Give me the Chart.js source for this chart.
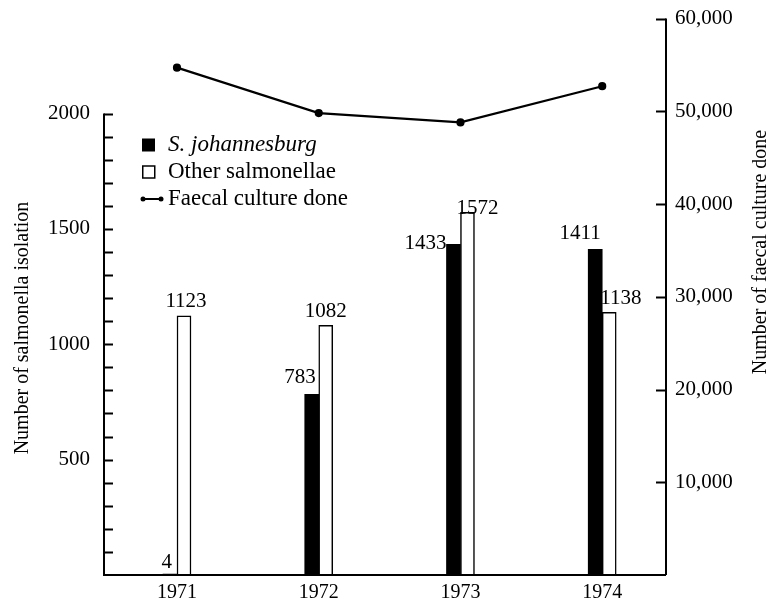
<!DOCTYPE html>
<html><head><meta charset="utf-8">
<script src="https://cdn.jsdelivr.net/npm/chart.js@4.4.1/dist/chart.umd.min.js"></script>
<style>html,body{margin:0;padding:0;background:#fff}#wrap{width:770px;height:605px}</style>
</head><body><div id="wrap"><canvas id="c" width="770" height="605"></canvas></div>
<script>
const years = [1971, 1972, 1973, 1974];
const sJohannesburg = [4, 783, 1433, 1411];
const otherSalmonellae = [1123, 1082, 1572, 1138];
const faecalCultures = [54700, 49800, 48800, 52700];
const leftTickLabels = [500, 1000, 1500, 2000];
const rightTickLabels = [10000, 20000, 30000, 40000, 50000, 60000];
const seriesNames = ['S. johannesburg', 'Other salmonellae', 'Faecal culture done'];
const axisTitles = ['Number of salmonella isolation', 'Number of faecal culture done'];

const FONT = "'Liberation Serif', 'Times New Roman', serif";
Chart.defaults.font.family = FONT;
Chart.defaults.font.size = 21;
Chart.defaults.color = '#000';

// label placement for value labels: [datasetIndex][pointIndex]
const labelPlacement = [
  [{a:'right', ref:'right', dx:-5, dy:-12}, {a:'right', ref:'right', dx:-3, dy:-17}, {a:'right', ref:'left', dx:0, dy:-1}, {a:'center', ref:'center', dx:-15, dy:-16}],
  [{a:'center', ref:'center', dx:2, dy:-14}, {a:'center', ref:'center', dx:0, dy:-14}, {a:'center', ref:'center', dx:10, dy:-4}, {a:'left', ref:'left', dx:-2, dy:-14}]
];

const noPad = s => { s.paddingTop = 0; s.paddingBottom = 0; s.paddingLeft = 0; s.paddingRight = 0; };

const decor = {
  id: 'decor',
  afterDatasetsDraw(chart) {
    const ctx = chart.ctx, ca = chart.chartArea;
    const yl = chart.scales.y, yr = chart.scales.y2;
    ctx.save();
    ctx.strokeStyle = '#000';
    ctx.fillStyle = '#000';
    ctx.lineWidth = 2;
    // axis lines
    ctx.beginPath();
    ctx.moveTo(ca.left, yl.getPixelForValue(leftTickLabels[leftTickLabels.length-1]));
    ctx.lineTo(ca.left, yl.getPixelForValue(0));
    ctx.lineTo(ca.right, yl.getPixelForValue(0));
    ctx.moveTo(ca.right, yr.getPixelForValue(0));
    ctx.lineTo(ca.right, yr.getPixelForValue(rightTickLabels[rightTickLabels.length-1]));
    ctx.stroke();
    // left minor ticks every 100, right major ticks
    ctx.beginPath();
    for (let v = 100; v <= leftTickLabels[leftTickLabels.length-1]; v += 100) {
      const p = Math.round(yl.getPixelForValue(v)) + 0.5;
      ctx.moveTo(ca.left, p); ctx.lineTo(ca.left + 9, p);
    }
    for (const v of rightTickLabels) {
      const p = Math.round(yr.getPixelForValue(v)) + 0.5;
      ctx.moveTo(ca.right, p); ctx.lineTo(ca.right - 10, p);
    }
    ctx.stroke();
    // value labels
    ctx.font = '21px ' + FONT;
    [0,1].forEach(di => {
      const meta = chart.getDatasetMeta(di);
      const vals = chart.data.datasets[di].data;
      meta.data.forEach((bar, i) => {
        const pl = labelPlacement[di][i];
        const w = bar.width;
        let x = bar.x;
        if (pl.ref === 'left') x = bar.x - w/2;
        if (pl.ref === 'right') x = bar.x + w/2;
        ctx.textAlign = pl.a;
        ctx.textBaseline = 'middle';
        ctx.fillText(String(vals[i].y), x + pl.dx, bar.y + pl.dy);
      });
    });
    // axis titles
    ctx.font = '20px ' + FONT;
    ctx.textAlign = 'center';
    ctx.textBaseline = 'middle';
    ctx.save();
    ctx.translate(23, 328); ctx.rotate(-Math.PI/2);
    ctx.fillText(axisTitles[0], 0, 0);
    ctx.restore();
    ctx.save();
    ctx.translate(761, 252); ctx.rotate(-Math.PI/2);
    ctx.fillText(axisTitles[1], 0, 0);
    ctx.restore();
    // legend
    const lx = 142, ly = [145, 172, 199];
    ctx.fillRect(lx, ly[0]-6.5, 13, 13);
    ctx.lineWidth = 1.5;
    ctx.strokeRect(lx+0.75, ly[1]-6, 12, 12);
    ctx.lineWidth = 2;
    ctx.beginPath(); ctx.moveTo(lx, ly[2]); ctx.lineTo(lx+19, ly[2]); ctx.stroke();
    ctx.beginPath(); ctx.arc(lx+1, ly[2], 2.5, 0, Math.PI*2); ctx.fill();
    ctx.beginPath(); ctx.arc(lx+19, ly[2], 2.5, 0, Math.PI*2); ctx.fill();
    ctx.textAlign = 'left';
    ctx.font = 'italic 23px ' + FONT;
    ctx.fillText(seriesNames[0], 168, ly[0]);
    ctx.font = '23px ' + FONT;
    ctx.fillText(seriesNames[1], 168, ly[1]);
    ctx.fillText(seriesNames[2], 168, ly[2]);
    ctx.restore();
  }
};

new Chart(document.getElementById('c'), {
  type: 'bar',
  data: {
    datasets: [
      {
        label: seriesNames[0], type: 'bar', yAxisID: 'y', xAxisID: 'x',
        data: years.map((y, i) => ({x: y, y: sJohannesburg[i]})),
        backgroundColor: '#000', borderColor: '#000', borderWidth: 0,
        barThickness: 14, order: 2
      },
      {
        label: seriesNames[1], type: 'bar', yAxisID: 'y', xAxisID: 'x',
        data: years.map((y, i) => ({x: y, y: otherSalmonellae[i]})),
        backgroundColor: '#fff', borderColor: '#000', borderWidth: 1.5,
        borderSkipped: 'bottom', barThickness: 14, order: 2
      },
      {
        label: seriesNames[2], type: 'line', yAxisID: 'y2', xAxisID: 'x',
        data: years.map((y, i) => ({x: y, y: faecalCultures[i]})),
        borderColor: '#000', backgroundColor: '#000', borderWidth: 2.2,
        pointRadius: 3, pointBackgroundColor: '#000', tension: 0, order: 1
      }
    ]
  },
  options: {
    responsive: false,
    animation: false,
    devicePixelRatio: 1,
    layout: { padding: { top: 18.5, left: 0, right: 0, bottom: 0 } },
    plugins: { legend: { display: false }, tooltip: { enabled: false } },
    scales: {
      x: {
        type: 'linear', min: 1970.485, max: 1974.45, offset: false,
        grid: { display: false, drawTicks: false }, border: { display: false },
        ticks: {
          stepSize: 1, padding: 6, autoSkip: false, maxRotation: 0, includeBounds: false,
          font: { size: 20 },
          callback: v => years.includes(v) ? String(v) : ''
        },
        afterFit: s => { s.height = 30; noPad(s); }
      },
      y: {
        position: 'left', min: 0, max: 2412,
        grid: { display: false, drawTicks: false }, border: { display: false },
        ticks: {
          stepSize: 100, padding: 14, autoSkip: false, includeBounds: false,
          callback: v => leftTickLabels.includes(v) ? String(v) : ''
        },
        afterFit: s => { s.width = 104; noPad(s); }
      },
      y2: {
        position: 'right', min: 0, max: 60000,
        grid: { display: false, drawTicks: false }, border: { display: false },
        ticks: {
          stepSize: 10000, padding: 9, autoSkip: false, includeBounds: false,
          callback: v => rightTickLabels.includes(v) ? v.toLocaleString('en-US') : ''
        },
        afterFit: s => { s.width = 104; noPad(s); }
      }
    }
  },
  plugins: [decor]
});
</script>
</body></html>
